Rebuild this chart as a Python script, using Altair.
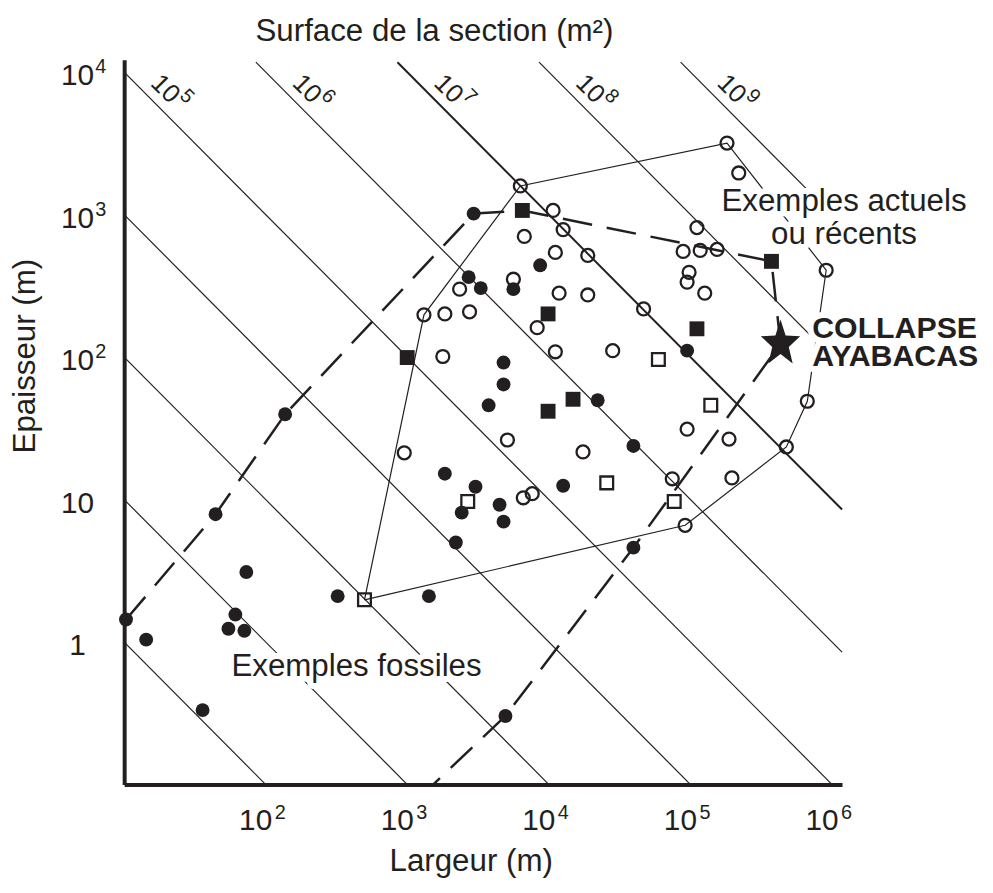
import altair as alt
import pandas as pd

INK = "#231f20"
FONT = "Liberation Sans"

# ---------------- values ----------------
# Exemples fossiles (filled circles): largeur (m), epaisseur (m)
fossil_w = [2710, 3300, 5610, 8670, 2940, 4780, 4780, 3750, 22100, 39500, 94600,
            137, 1840, 3030, 2420, 4480, 4780, 12600, 2200, 39500, 44.2, 72.9,
            322, 1420, 10.3, 61.0, 54.5, 70.6, 14.3, 35.8, 4930]
fossil_t = [364, 305, 300, 441, 1016, 91.6, 64.3, 45.9, 49.8, 23.8, 111,
            39.7, 15.2, 12.3, 8.1, 9.2, 7.0, 12.5, 5.0, 4.6, 7.9, 3.1,
            2.1, 2.1, 1.44, 1.56, 1.24, 1.20, 1.04, 0.333, 0.303]

# Exemples actuels ou recents (open circles)
recent_w = [181000, 219000, 6280, 10700, 12600, 6700, 11100, 18800, 5610, 2340,
            11800, 18800, 1310, 1840, 2750, 8260, 1780, 11100, 28200, 46600,
            111000, 88700, 117000, 154000, 97700, 94600, 126000, 908000, 668000, 475000,
            187000, 94600, 74300, 91600, 196000, 17400, 5090, 951, 6590, 7620]
recent_t = [3180, 1960, 1590, 1070, 785, 703, 543, 517, 352, 300,
            281, 273, 198, 201, 208, 161, 101, 109, 111, 218,
            811, 552, 561, 570, 394, 336, 281, 407, 49.0, 23.4,
            26.6, 31.2, 14.0, 6.6, 14.2, 21.6, 26.2, 21.3, 10.3, 11.0]

sqf_w = [998, 6490, 9860, 111000, 14800, 9860, 373000]
sqf_t = [99.3, 1070, 201, 158, 50.6, 41.7, 470]

sqo_w = [498, 2670, 59300, 139000, 25600, 76700]
sqo_t = [1.98, 9.7, 96.2, 45.9, 13.1, 9.7]

star_w = [432000]
star_t = [124]

# envelopes
env_recent_w = [498, 1310, 6280, 181000, 908000, 668000, 475000, 91600, 498]
env_recent_t = [1.98, 198, 1590, 3180, 407, 49.0, 23.4, 6.6, 1.98]
env_fossil_w = [10.3, 44.2, 137, 2940, 6490, 373000, 432000, 39500, 4930, 1520]
env_fossil_t = [1.44, 7.9, 39.7, 1016, 1070, 470, 124, 4.6, 0.303, 0.1]

# iso-surface lines (m2 = 10^k)
area_exp = [1, 2, 3, 4, 5, 6, 7, 8, 9]
area_label_exp = [5, 6, 7, 8, 9]

x_ticks = [1e2, 1e3, 1e4, 1e5, 1e6]
x_tick_exp = ["2", "3", "4", "5", "6"]
y_ticks = [1, 10, 100, 1000, 10000]
y_tick_base = ["1", "10", "10", "10", "10"]
y_tick_exp = ["", "", "2", "3", "4"]

# ---------------- chart ----------------
X_MIN, X_MAX = 10.0, 10 ** 6.07
Y_MIN, Y_MAX = 0.1, 10 ** 4.087
LINE_TOP = 10 ** 4.07
W, H = 723, 730

xs = alt.Scale(type="log", domain=[X_MIN, X_MAX], nice=False)
ys = alt.Scale(type="log", domain=[Y_MIN, Y_MAX], nice=False)

x_axis = alt.Axis(title="Largeur (m)", domain=True, domainWidth=4, domainColor=INK,
                  ticks=False, labels=False, grid=False,
                  titleFont=FONT, titleFontSize=31.5, titleFontWeight="normal",
                  titleColor=INK, titleX=349, titleY=87, titleAngle=0,
                  titleBaseline="alphabetic", titleAlign="center")
y_axis = alt.Axis(title="Epaisseur (m)", domain=True, domainWidth=4, domainColor=INK,
                  ticks=False, labels=False, grid=False,
                  titleFont=FONT, titleFontSize=31.5, titleFontWeight="normal",
                  titleColor=INK, titleX=-90, titleY=298, titleAngle=270,
                  titleBaseline="alphabetic", titleAlign="center")

def X():
    return alt.X("w:Q", scale=xs, axis=x_axis)

def Y():
    return alt.Y("t:Q", scale=ys, axis=y_axis)

# diagonal lines
rows = []
for k in area_exp:
    A = 10.0 ** k
    x0 = max(X_MIN, A / LINE_TOP)
    x1 = min(X_MAX, A / Y_MIN)
    sw = 2.0 if k == 7 else 1.2
    rows.append(dict(w=x0, t=A / x0, k=k, sw=sw, i=0))
    rows.append(dict(w=x1, t=A / x1, k=k, sw=sw, i=1))
diag_df = pd.DataFrame(rows)

diag = alt.Chart(diag_df).mark_line(color=INK).encode(
    x=X(), y=Y(), detail="k:N", order=alt.Order("i:Q"),
    strokeWidth=alt.StrokeWidth("sw:Q", scale=None))

env_r_df = pd.DataFrame({"w": env_recent_w, "t": env_recent_t, "i": range(len(env_recent_w))})
env_r = alt.Chart(env_r_df).mark_line(color=INK, strokeWidth=1.2).encode(
    x=X(), y=Y(), order=alt.Order("i:Q"))

env_f_df = pd.DataFrame({"w": env_fossil_w, "t": env_fossil_t, "i": range(len(env_fossil_w))})
env_f = alt.Chart(env_f_df).mark_line(color=INK, strokeWidth=2.5, strokeDash=[30, 15]).encode(
    x=X(), y=Y(), order=alt.Order("i:Q"))

fossil = alt.Chart(pd.DataFrame({"w": fossil_w, "t": fossil_t})).mark_point(
    shape="circle", filled=True, size=196, color=INK, opacity=1).encode(x=X(), y=Y())
recent = alt.Chart(pd.DataFrame({"w": recent_w, "t": recent_t})).mark_point(
    shape="circle", filled=False, size=170, strokeWidth=2.3, color=INK, opacity=1).encode(x=X(), y=Y())
sqf = alt.Chart(pd.DataFrame({"w": sqf_w, "t": sqf_t})).mark_point(
    shape="square", filled=True, size=225, color=INK, opacity=1).encode(x=X(), y=Y())
sqo = alt.Chart(pd.DataFrame({"w": sqo_w, "t": sqo_t})).mark_point(
    shape="square", filled=False, size=165, strokeWidth=2.3, color=INK, opacity=1).encode(x=X(), y=Y())

STAR = ("M0,-1L0.21,-0.34L0.808,-0.309L0.34,0.13L0.5,0.809L0,0.42"
        "L-0.5,0.809L-0.34,0.13L-0.808,-0.309L-0.21,-0.34Z")
star = alt.Chart(pd.DataFrame({"w": star_w, "t": star_t})).mark_point(
    shape=STAR, filled=True, size=2400, color=INK, opacity=1).encode(x=X(), y=Y())

# iso-surface labels
lab_df = pd.DataFrame({
    "w": [10 ** (k - 3.709) for k in area_label_exp],
    "t": [10 ** 3.882] * len(area_label_exp),
    "e": [str(k) for k in area_label_exp],
})
lab10 = alt.Chart(lab_df).mark_text(text="10", angle=45, font=FONT, fontSize=26,
                                    align="center", baseline="middle", color=INK).encode(x=X(), y=Y())
labexp = alt.Chart(lab_df).mark_text(angle=45, font=FONT, fontSize=20, dx=20.5, dy=-10,
                                     align="center", baseline="middle", color=INK).encode(
    x=X(), y=Y(), text="e:N")

# tick labels
xt_df = pd.DataFrame({"w": x_ticks, "e": x_tick_exp})
xt_main = alt.Chart(xt_df).mark_text(text="10", font=FONT, fontSize=30, align="right",
                                     baseline="alphabetic", dx=6.5, color=INK).encode(
    x=X(), y=alt.value(H + 46))
xt_sup = alt.Chart(xt_df).mark_text(font=FONT, fontSize=20, align="left",
                                    baseline="alphabetic", dx=9, color=INK).encode(
    x=X(), y=alt.value(H + 35), text="e:N")

yt_df = pd.DataFrame({"t": y_ticks, "b": y_tick_base, "e": y_tick_exp})
yt_main = alt.Chart(yt_df).mark_text(font=FONT, fontSize=30, align="center",
                                     baseline="alphabetic", dy=13, color=INK).encode(
    x=alt.value(-47), y=Y(), text="b:N")
yt_sup = alt.Chart(yt_df).mark_text(font=FONT, fontSize=20, align="left",
                                    baseline="alphabetic", dy=1, color=INK).encode(
    x=alt.value(-29), y=Y(), text="e:N")

one = pd.DataFrame({"a": [0]})

def note(text, x, y, size=31.5, align="left", weight="normal", lh=33, halo=False):
    kw = dict(text=text, font=FONT, fontSize=size, fontWeight=weight,
              align=align, baseline="alphabetic", lineHeight=lh)
    if halo:
        kw.update(color="white", stroke="white", strokeWidth=12, strokeJoin="round")
    else:
        kw.update(color=INK)
    return alt.Chart(one).mark_text(**kw).encode(x=alt.value(x), y=alt.value(y))

notes = [
    ("Exemples fossiles", 108, 621, 31.5, "left", "normal", 33),
    (["Exemples actuels", "ou récents"], 725, 152.5, 31.5, "center", "normal", 33),
    (["COLLAPSE", "AYABACAS"], 693, 280, 30.5, "left", "bold", 28),
]
halos = [note(t, x, y, s, a, wt, lh, halo=True) for (t, x, y, s, a, wt, lh) in notes]
texts = [note(t, x, y, s, a, wt, lh) for (t, x, y, s, a, wt, lh) in notes]
surface = note("Surface de la section (m²)", 312.5, -19, 31.5, "center")

chart = alt.layer(
    diag, env_r, env_f, fossil, recent, sqf, sqo, star,
    lab10, labexp, xt_main, xt_sup, yt_main, yt_sup,
    *halos, *texts, surface,
).properties(
    width=W, height=H,
    autosize=alt.AutoSizeParams(type="none"),
    padding={"left": 117, "top": 49, "right": 144, "bottom": 93},
).configure_view(stroke=None)

chart.save("out.html", embed_options={"renderer": "svg", "actions": False})
